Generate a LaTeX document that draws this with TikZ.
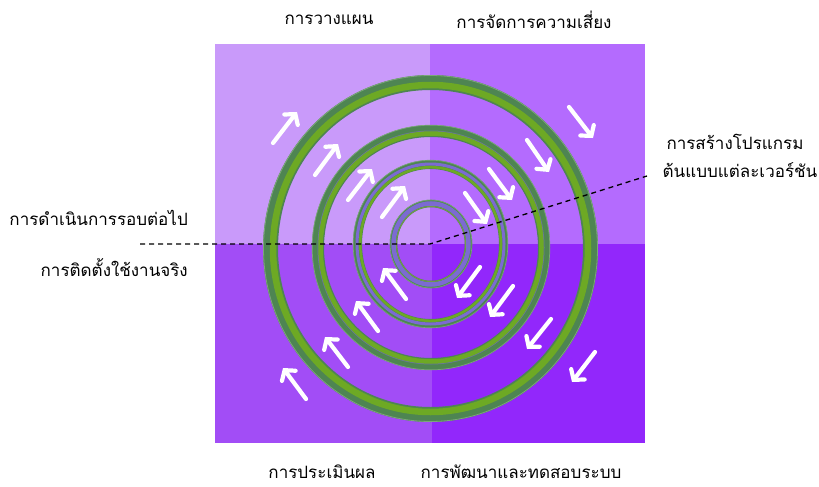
\documentclass[tikz,border=0pt]{standalone}
\usepackage{fontspec}
\newfontfamily\thaifont[Script=Thai]{Loma}
\usetikzlibrary{arrows.meta}
\definecolor{qTL}{HTML}{C99AFA}
\definecolor{qTR}{HTML}{B46BFE}
\definecolor{qBL}{HTML}{A24DF6}
\definecolor{qBR}{HTML}{9227FB}
\definecolor{gDark}{HTML}{4E8552}
\definecolor{gBright}{HTML}{6DA924}
\definecolor{rBlue}{HTML}{7C6AD2}
\definecolor{rHi}{HTML}{A8C8A0}
\tikzset{
  lbl/.style={font=\thaifont\fontsize{17}{21}\selectfont, text=black, inner sep=0pt},
  flow/.style={draw=white, line width=4.2pt, line cap=round,
    -{Straight Barb[length=7pt, width=17pt, line cap=round]}},
  leader/.style={draw=black, line width=1.3pt, dash pattern=on 5pt off 4pt},
}
\begin{document}
\begin{tikzpicture}[x=1pt,y=-1pt]
\useasboundingbox (0,0) rectangle (819,487);
% quadrants
\fill[qTL] (215,44) rectangle (430,244);
\fill[qTR] (430,44) rectangle (645,244);
\fill[qBL] (215,244) rectangle (432,443);
\fill[qBR] (432,244) rectangle (645,443);
% ring 1 (outer)
\draw[gDark, line width=15pt] (430.5,248.5) ellipse [x radius=160, y radius=166];
\draw[gBright, line width=6.5pt] (430.5,248.5) ellipse [x radius=157.5, y radius=163.5];
\draw[rHi!50!gDark, line width=0.8pt] (430.5,248.5) ellipse [x radius=167, y radius=173];
% ring 2
\draw[gDark, line width=12pt] (431,247.5) ellipse [x radius=113, y radius=116.5];
\draw[rBlue!60!gDark, line width=1pt] (431,247.5) ellipse [x radius=113, y radius=116.5];
\draw[gBright, line width=4.5pt] (431,247.5) ellipse [x radius=110.5, y radius=114];
\draw[rHi!50!gDark, line width=0.7pt] (431,247.5) ellipse [x radius=118.8, y radius=122.3];
% ring 3
\draw[gDark, line width=9pt] (430.5,244) ellipse [x radius=73, y radius=79.5];
\draw[rBlue, line width=3pt] (430.5,244) ellipse [x radius=73.5, y radius=80];
\draw[gBright, line width=2.5pt] (430.5,244) ellipse [x radius=70.3, y radius=76.8];
\draw[rHi!50!gDark, line width=0.6pt] (430.5,244) ellipse [x radius=77.3, y radius=83.8];
% ring 4 (inner)
\draw[gDark, line width=7.5pt] (431,244) ellipse [x radius=37.5, y radius=40.5];
\draw[rBlue, line width=4.5pt] (431,244) ellipse [x radius=37.5, y radius=40.5];
\draw[gBright!80!rBlue, line width=1pt] (431,244) ellipse [x radius=34.5, y radius=37.5];
\draw[rHi!50!gDark, line width=0.6pt] (431,244) ellipse [x radius=41, y radius=44];
% arrows top-left (NE)
\draw[flow] (273,143) -- (297,112);
\draw[flow] (315,175) -- (338,144);
\draw[flow] (348,200) -- (372,169);
\draw[flow] (382,217) -- (405,186);
% arrows top-right (SE)
\draw[flow] (569,107) -- (593,138);
\draw[flow] (527,140) -- (549,172);
\draw[flow] (489,169) -- (512,200);
\draw[flow] (465,193) -- (487,224);
% arrows bottom-right (SW)
\draw[flow] (480,267) -- (457,298);
\draw[flow] (513,286) -- (490,317);
\draw[flow] (551,319) -- (527,349);
\draw[flow] (595,352) -- (572,382);
% arrows bottom-left (NW)
\draw[flow] (406,299) -- (383,268);
\draw[flow] (378,331) -- (356,301);
\draw[flow] (348,367) -- (325,337);
\draw[flow] (306,399) -- (283,368);
% leaders
\coordinate (ctr) at (430,244);
\coordinate (lend) at (140,244);
\coordinate (rend) at (647,176);
\draw[leader] (lend) -- (ctr) -- (rend);
% labels
\node[lbl] (plan) at (329,20) {การวางแผน};
\node[lbl] (risk) at (534,20) {การจัดการความเสี่ยง};
\node[lbl, anchor=east] (next) at (188,218) {การดำเนินการรอบต่อไป};
\node[lbl, anchor=east] (deploy) at (188,268) {การติดตั้งใช้งานจริง};
\node[lbl] (proto1) at (735,142) {การสร้างโปรแกรม};
\node[lbl] (proto2) at (740,170) {ต้นแบบแต่ละเวอร์ชัน};
\node[lbl] (eval) at (322,472) {การประเมินผล};
\node[lbl] (dev) at (521,472) {การพัฒนาและทดสอบระบบ};
\end{tikzpicture}
\end{document}
